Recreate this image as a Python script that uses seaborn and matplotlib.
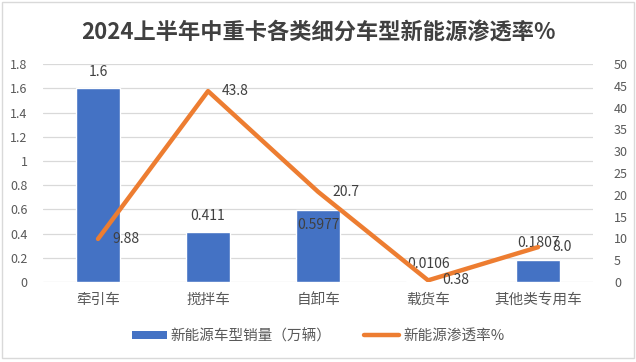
import matplotlib
matplotlib.use('Agg')
import matplotlib.pyplot as plt
import seaborn as sns
import pandas as pd
from matplotlib.patches import Patch, Rectangle
from matplotlib.lines import Line2D


categories = ['牵引车', '搅拌车', '自卸车', '载货车', '其他类专用车']
sales = [1.6, 0.411, 0.5977, 0.0106, 0.1807]
sales_labels = ['1.6', '0.411', '0.5977', '0.0106', '0.1807']
rates = [9.88, 43.8, 20.7, 0.38, 8.0]
rate_labels = ['9.88', '43.8', '20.7', '0.38', '8.0']
left_ticks = [0, 0.2, 0.4, 0.6, 0.8, 1, 1.2, 1.4, 1.6, 1.8]
right_ticks = [0, 5, 10, 15, 20, 25, 30, 35, 40, 45, 50]

BLUE = '#4472C4'
ORANGE = '#ED7D31'
TEXT = '#595959'

sns.set_style('white')
plt.rcParams['font.family'] = ['Noto Sans CJK SC', 'DejaVu Sans']

df = pd.DataFrame({'category': categories, 'sales': sales, 'rate': rates})

fig = plt.figure(figsize=(6.36, 3.62), dpi=100)
ax = fig.add_axes([0.0676, 0.221, 0.865, 0.602])

sns.barplot(data=df, x='category', y='sales', color=BLUE, width=0.4,
            saturation=1, ax=ax, zorder=2)
ax.set_ylim(0, 1.8)
ax.set_yticks(left_ticks)
ax.set_yticklabels([f'{t:g}' for t in left_ticks])
ax.grid(axis='y', color='#D9D9D9', linewidth=0.9, zorder=0)
ax.set_axisbelow(True)
ax.set_xlabel('')
ax.set_ylabel('')
for s in ax.spines.values():
    s.set_visible(False)
ax.tick_params(axis='y', length=0, labelsize=9, labelcolor=TEXT, pad=11)
ax.tick_params(axis='x', length=0, labelsize=10.5, labelcolor=TEXT, pad=8)

# bar value labels
for i, (v, lab) in enumerate(zip(sales, sales_labels)):
    dy = -11 if lab == '0.5977' else 12
    ax.annotate(lab, (i, v), xytext=(0, dy), textcoords='offset points',
                ha='center', va='center', fontsize=10, color='#404040')

ax2 = ax.twinx()
sns.pointplot(data=df, x='category', y='rate', color=ORANGE, markers='',
              linewidth=3.2, ax=ax2)
ax2.set_ylim(0, 50)
ax2.set_yticks(right_ticks)
ax2.set_xlabel('')
ax2.set_ylabel('')
ax2.grid(False)
for s in ax2.spines.values():
    s.set_visible(False)
ax2.tick_params(axis='y', length=0, labelsize=9, labelcolor=TEXT, pad=15)
ax.set_xlim(-0.5, len(categories) - 0.5)
ax2.set_xlim(-0.5, len(categories) - 0.5)

for i, (v, lab) in enumerate(zip(rates, rate_labels)):
    ax2.annotate(lab, (i, v), xytext=(10, 0), textcoords='offset points',
                 ha='left', va='center', fontsize=10, color='#404040')

fig.text(0.5, 0.91, '2024上半年中重卡各类细分车型新能源渗透率%',
         ha='center', va='center', fontsize=16, fontweight='bold', color='#404040')

handles = [Patch(facecolor=BLUE, edgecolor='none'),
           Line2D([0], [0], color=ORANGE, linewidth=3.2)]
fig.legend(handles, ['新能源车型销量（万辆）', '新能源渗透率%'],
           loc='center', bbox_to_anchor=(0.5, 0.072), ncol=2, frameon=False,
           fontsize=10.5, labelcolor=TEXT, handlelength=2.4, handleheight=0.5,
           handletextpad=0.3, columnspacing=2.2)

fig.add_artist(Rectangle((0.003, 0.012), 0.994, 0.982, transform=fig.transFigure,
                         fill=False, edgecolor='#D9D9D9', linewidth=1))

fig.savefig('out.png', dpi=100)
